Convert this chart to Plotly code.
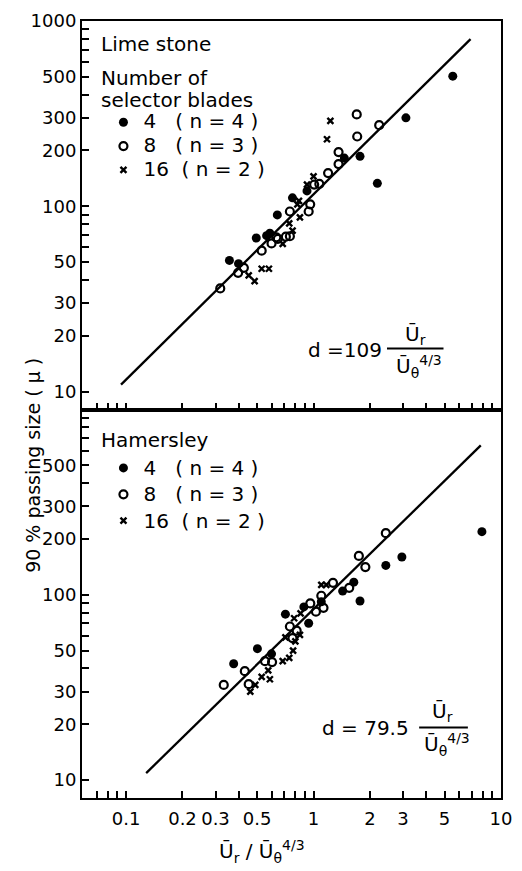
import plotly.graph_objects as go
from plotly.subplots import make_subplots

# ---------------- data ----------------
# Lime stone panel
lime_4_x = [5.53, 3.11, 1.77, 2.19, 1.46, 0.923, 0.772, 0.641, 0.585, 0.562, 0.495, 0.356, 0.398]
lime_4_y = [504, 300, 186, 133, 182, 121, 111, 89.8, 71.5, 69.4, 67.4, 51, 49]
lime_8_x = [1.70, 2.24, 1.71, 1.36, 1.36, 1.196, 1.074, 1.008, 0.942, 0.748, 0.748, 0.633, 0.597,
            0.529, 0.425, 0.396, 0.318, 0.645, 0.712, 0.96]
lime_8_y = [313, 274, 238, 196, 169, 151, 132, 131, 93.7, 93.7, 68.9, 68, 63,
            57.6, 46.5, 43.7, 36, 66.6, 68.5, 102.5]
lime_16_x = [1.23, 1.18, 1.0, 0.923, 0.82, 0.846, 0.742, 0.685, 0.578, 0.529, 0.485, 0.451, 0.773, 0.836]
lime_16_y = [289, 230, 145, 131, 102.5, 87, 80.8, 62.7, 46, 46, 39.4, 42.4, 73.8, 107]
lime_fit_x = [0.094, 6.88]
lime_fit_y = [10.9, 798]

# Hamersley panel
ham_4_x = [7.91, 2.96, 2.43, 1.77, 1.64, 1.43, 1.10, 0.942, 0.888, 0.708, 0.502, 0.375, 0.597]
ham_4_y = [219, 160, 144, 92.5, 117, 104.7, 91.7, 70.2, 86, 78.6, 51.2, 42.4, 48]
ham_8_x = [2.43, 1.745, 1.89, 1.27, 1.55, 1.10, 1.03, 1.13, 0.961, 0.748, 0.813, 0.772, 0.601,
           0.551, 0.43, 0.451, 0.332]
ham_8_y = [215, 162, 141, 116, 109, 98.8, 81, 85, 89.8, 67.4, 64, 58.4, 43.3,
           43.8, 38.7, 32.9, 32.6]
ham_16_x = [1.10, 1.17, 0.853, 0.788, 0.708, 0.80, 0.846, 0.685, 0.742, 0.778, 0.573, 0.585,
            0.529, 0.489, 0.46]
ham_16_y = [113, 113, 79.4, 74.7, 58.9, 56, 60.8, 43.8, 45.6, 50, 39.1, 35,
            36, 32.6, 30]
ham_fit_x = [0.128, 7.8]
ham_fit_y = [10.9, 640]

legend_names = ["4\u00a0\u00a0\u00a0(\u00a0n\u00a0=\u00a04\u00a0)",
                "8\u00a0\u00a0\u00a0(\u00a0n\u00a0=\u00a03\u00a0)",
                "16\u00a0\u00a0(\u00a0n\u00a0=\u00a02\u00a0)"]

x_major = [0.1, 0.2, 0.3, 0.5, 1, 2, 3, 5, 10]
x_major_text = ["0.1", "0.2", "0.3", "0.5", "1", "2", "3", "5", "10"]
x_minor = [0.07, 0.08, 0.09, 0.4, 0.6, 0.7, 0.8, 0.9, 4, 6, 7, 8, 9]
y_major_top = [10, 20, 30, 50, 100, 200, 300, 500, 1000]
y_major_top_text = ["10", "20", "30", "50", "100", "200", "300", "500", "1000"]
y_major_bottom = [10, 20, 30, 50, 100, 200, 300, 500]
y_major_bottom_text = ["10", "20", "30", "50", "100", "200", "300", "500"]
y_minor = [40, 60, 70, 80, 90, 400, 600, 700, 800, 900]

FONT = "DejaVu Sans"
BLACK = "#000000"

fig = make_subplots(rows=2, cols=1, shared_xaxes=True, vertical_spacing=0)

def big(s):
    return "<span style='font-size:20px'>" + s + "</span>"

def add_panel(row, x4, y4, x8, y8, x16, y16, fx, fy, legend):
    fig.add_trace(go.Scatter(x=fx, y=fy, mode="lines", line=dict(color=BLACK, width=2.3),
                             showlegend=False, hoverinfo="skip"), row=row, col=1)
    fig.add_trace(go.Scatter(x=x4, y=y4, mode="markers", name=big(legend_names[0]), legend=legend,
                             marker=dict(symbol="circle", size=9, color=BLACK)), row=row, col=1)
    fig.add_trace(go.Scatter(x=x8, y=y8, mode="markers", name=big(legend_names[1]), legend=legend,
                             marker=dict(symbol="circle-open", size=8, color=BLACK,
                                         line=dict(width=2.2, color=BLACK))), row=row, col=1)
    fig.add_trace(go.Scatter(x=x16, y=y16, mode="markers", name=big(legend_names[2]), legend=legend,
                             marker=dict(symbol="x-thin-open", size=6, color=BLACK,
                                         line=dict(width=2.4, color=BLACK))), row=row, col=1)

add_panel(1, lime_4_x, lime_4_y, lime_8_x, lime_8_y, lime_16_x, lime_16_y,
          lime_fit_x, lime_fit_y, "legend")
add_panel(2, ham_4_x, ham_4_y, ham_8_x, ham_8_y, ham_16_x, ham_16_y,
          ham_fit_x, ham_fit_y, "legend2")

L, R, T, B = 82, 512, 15, 798
W, H = R - L, B - T

def px(x):
    return (x - L) / W

def py(y):
    return (B - y) / H

axis_common = dict(type="log", showline=True, linecolor=BLACK, linewidth=2, mirror=True,
                   ticks="inside", ticklen=7, tickwidth=2, tickcolor=BLACK,
                   showgrid=False, zeroline=False, tickmode="array",
                   tickfont=dict(family=FONT, size=18, color=BLACK))

fig.update_xaxes(**axis_common, range=[-1.235, 1.0], tickvals=x_major, ticktext=x_major_text,
                 minor=dict(tickmode="array", tickvals=x_minor, ticks="inside", ticklen=7,
                            tickwidth=2, tickcolor=BLACK, showgrid=False))
fig.update_xaxes(ticklabelstandoff=3, row=2, col=1)

fig.update_yaxes(**axis_common, range=[0.903, 3.0],
                 minor=dict(tickmode="array", tickvals=y_minor, ticks="inside", ticklen=7,
                            tickwidth=2, tickcolor=BLACK, showgrid=False))
fig.update_yaxes(tickvals=y_major_top, ticktext=y_major_top_text, row=1, col=1)
fig.update_yaxes(tickvals=y_major_bottom, ticktext=y_major_bottom_text, row=2, col=1)
fig.update_yaxes(ticklabelstandoff=0)

def legend_style(fs):
    return dict(font=dict(family=FONT, size=fs, color=BLACK), bgcolor="rgba(0,0,0,0)",
                xanchor="left", yanchor="top", itemwidth=30, tracegroupgap=0)

def ann(text, x, y, size=20, xanchor="left", yanchor="middle", angle=0):
    fig.add_annotation(text=text, x=px(x), y=py(y), xref="paper", yref="paper",
                       showarrow=False, xanchor=xanchor, yanchor=yanchor, textangle=angle,
                       font=dict(family=FONT, size=size, color=BLACK))

ann("Lime stone", 99, 38)
ann("Number of", 99, 72)
ann("selector blades", 99, 95)
ann("Hamersley", 99, 437)

# equations
ann("d =109", 392, 347, xanchor="right")
ann("Ū<sub>r</sub>", 424, 331, xanchor="center")
ann("Ū<sub>θ</sub><sup>4/3</sup>", 428, 363, xanchor="center")
ann("d = 79.5", 420, 727, xanchor="right")
ann("Ū<sub>r</sub>", 452, 711, xanchor="center")
ann("Ū<sub>θ</sub><sup>4/3</sup>", 457, 744, xanchor="center")

for x0, x1, yy in [(395, 453, 345), (428, 478, 727)]:
    fig.add_shape(type="line", xref="paper", yref="paper", x0=px(x0), x1=px(x1),
                  y0=py(yy), y1=py(yy), line=dict(color=BLACK, width=2))

# axis titles
ann("Ū<sub>r</sub> / Ū<sub>θ</sub><sup>4/3</sup>", 267, 852, size=20, xanchor="center")
ann("90 % passing size ( μ )", 31, 463, size=19, xanchor="center", angle=-90)

fig.update_layout(
    width=522, height=871,
    margin=dict(l=L, r=522 - R, t=T, b=871 - B),
    paper_bgcolor="white", plot_bgcolor="white",
    showlegend=True,
    legend=dict(**legend_style(16), x=px(104), y=py(100)),
    legend2=dict(**legend_style(18), x=px(104), y=py(447)),
)

fig.write_html("out.html")
